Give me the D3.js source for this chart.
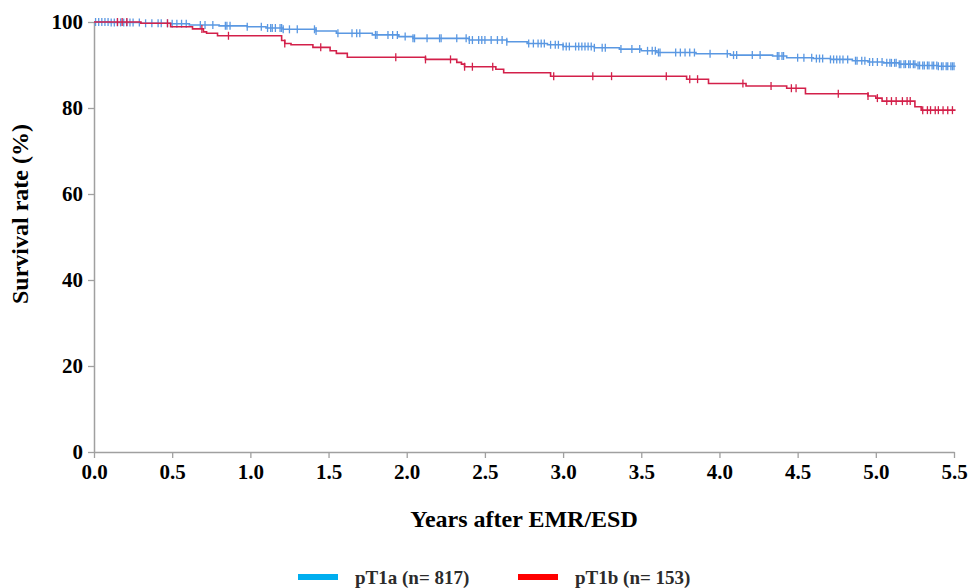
<!DOCTYPE html>
<html>
<head>
<meta charset="utf-8">
<script src="https://cdn.jsdelivr.net/npm/d3@7"></script>
<style>
  body { margin: 0; background: #fff; }
  text { font-family: "Liberation Serif", "Times New Roman", serif; font-weight: bold; }
</style>
</head>
<body>
<div id="chart"></div>
<script>
// step points of the curves (years, survival %)
const pT1aTimes = [0, 0.10, 0.30, 0.49, 0.61, 0.80, 0.98, 1.10, 1.21, 1.42, 1.55, 1.78, 1.95, 2.04, 2.40, 2.64, 2.77, 2.90, 3.00, 3.20, 3.36, 3.50, 3.60, 3.85, 4.07, 4.34, 4.43, 4.60, 4.71, 4.85, 4.95, 5.05, 5.15, 5.26, 5.40, 5.51];
const pT1aSurv  = [100, 99.9, 99.7, 99.6, 99.3, 99.1, 98.9, 98.6, 98.3, 97.9, 97.4, 97.0, 96.6, 96.2, 95.8, 95.4, 95.0, 94.7, 94.3, 94.0, 93.7, 93.3, 92.9, 92.6, 92.3, 92.1, 91.7, 91.5, 91.3, 91.0, 90.7, 90.5, 90.2, 89.9, 89.7, 89.7];

const pT1bTimes = [0, 0.30, 0.49, 0.63, 0.70, 0.72, 0.79, 1.20, 1.22, 1.26, 1.40, 1.51, 1.55, 1.62, 2.12, 2.32, 2.35, 2.37, 2.57, 2.62, 2.92, 3.79, 3.93, 4.17, 4.43, 4.55, 4.95, 5.00, 5.04, 5.25, 5.29, 5.51];
const pT1bSurv  = [100, 99.7, 98.9, 98.4, 97.7, 97.4, 96.8, 95.7, 95.0, 94.7, 94.1, 93.3, 92.7, 91.8, 91.3, 90.6, 90.2, 89.6, 89.0, 88.2, 87.4, 86.7, 85.7, 85.1, 84.6, 83.3, 82.8, 82.3, 81.6, 80.3, 79.5, 79.5];

// censored times
const pT1aCensor = [0.01, 0.03, 0.05, 0.07, 0.09, 0.11, 0.13, 0.15, 0.17, 0.19, 0.21, 0.23, 0.25,
  0.29, 0.33, 0.37, 0.41, 0.43, 0.47, 0.50, 0.53, 0.56, 0.59, 0.68, 0.71, 0.76, 0.84, 0.85, 0.87, 0.98,
  1.07, 1.11, 1.13, 1.14, 1.16, 1.19, 1.20, 1.21, 1.25, 1.30, 1.41, 1.42, 1.56, 1.65, 1.68, 1.70, 1.80, 1.81, 1.88, 1.91, 1.94, 1.99, 2.04,
  2.05, 2.13, 2.21, 2.22, 2.32, 2.38, 2.40, 2.42, 2.46, 2.48, 2.50, 2.54, 2.58, 2.61, 2.64, 2.78, 2.81, 2.84, 2.86, 2.88, 2.92, 2.95, 2.97, 3.00, 3.02, 3.04, 3.08, 3.10,
  3.12, 3.14, 3.16, 3.18, 3.20, 3.25, 3.27, 3.37, 3.44, 3.49, 3.54, 3.57, 3.59, 3.61, 3.62, 3.72, 3.75, 3.78, 3.81, 3.84, 3.94, 4.05, 4.09, 4.11,
  4.21, 4.26, 4.37, 4.38, 4.40, 4.41, 4.50, 4.54, 4.59, 4.62, 4.64, 4.66, 4.71, 4.73, 4.75, 4.77, 4.79, 4.82, 4.87,
  4.88, 4.91, 4.93, 4.96, 4.98, 5.01, 5.04, 5.07, 5.09, 5.10, 5.12, 5.13, 5.15, 5.16, 5.18, 5.19, 5.21, 5.22, 5.24, 5.25, 5.27, 5.28,
  5.30, 5.31, 5.33, 5.34, 5.36, 5.37, 5.39, 5.40, 5.42, 5.43, 5.45, 5.46, 5.48, 5.49, 5.50];
const pT1bCensor = [0.15, 0.18, 0.21, 0.47, 0.69, 0.86, 1.22, 1.45, 1.93, 2.12, 2.28, 2.37, 2.42, 2.55, 2.94, 3.19, 3.31,
  3.66, 3.81, 3.86, 4.15, 4.33, 4.46, 4.49, 4.76, 4.95, 5.01, 5.07, 5.10, 5.13, 5.17, 5.20, 5.22,
  5.30, 5.33, 5.35, 5.38, 5.40, 5.43, 5.46, 5.49];

const xTicks = [0, 0.5, 1, 1.5, 2, 2.5, 3, 3.5, 4, 4.5, 5, 5.5];
const yTicks = [0, 20, 40, 60, 80, 100];
const seriesNames = ["pT1a (n= 817)", "pT1b (n= 153)"];

const width = 969, height = 588;

const svg = d3.select("#chart").append("svg")
  .attr("width", width)
  .attr("height", height);

const x = d3.scaleLinear().domain([0, 5.5]).range([94, 954]);
const y = d3.scaleLinear().domain([0, 100]).range([452, 22]);

// axes
const yAxis = svg.append("g")
  .attr("transform", "translate(94,0)")
  .call(d3.axisLeft(y).tickValues(yTicks).tickSize(6).tickSizeOuter(0).tickPadding(5).tickFormat(d3.format("d")));
const xAxis = svg.append("g")
  .attr("transform", "translate(0,452)")
  .call(d3.axisBottom(x).tickValues(xTicks).tickSize(6).tickSizeOuter(0).tickPadding(6).tickFormat(d3.format(".1f")));

[xAxis, yAxis].forEach(a => {
  a.select(".domain").attr("stroke", "#a0a0a0").attr("stroke-width", 1.5);
  a.selectAll(".tick line").attr("stroke", "#a0a0a0").attr("stroke-width", 1.3);
  a.selectAll(".tick text").attr("fill", "#000")
    .style("font-family", "'Liberation Serif', serif").style("font-weight", "bold").style("font-size", "21px");
});

svg.append("text")
  .attr("x", 524).attr("y", 527)
  .attr("text-anchor", "middle")
  .style("font-size", "24px")
  .text("Years after EMR/ESD");

svg.append("text")
  .attr("transform", "translate(28,214) rotate(-90)")
  .attr("text-anchor", "middle")
  .style("font-size", "24px")
  .text("Survival rate (%)");

// curves
const series = [
  { times: pT1aTimes, surv: pT1aSurv, censor: pT1aCensor, color: "#5a98e2" },
  { times: pT1bTimes, surv: pT1bSurv, censor: pT1bCensor, color: "#d3204a" }
];

const line = d3.line()
  .x(d => x(d[0]))
  .y(d => y(d[1]))
  .curve(d3.curveStepAfter);

function survAt(s, t) {
  let v = s.surv[0];
  for (let i = 0; i < s.times.length; i++) {
    if (s.times[i] <= t) v = s.surv[i];
  }
  return v;
}

series.forEach(s => {
  const pts = s.times.map((t, i) => [t, s.surv[i]]);
  svg.append("path")
    .datum(pts)
    .attr("fill", "none")
    .attr("stroke", s.color)
    .attr("stroke-width", 1.6)
    .attr("d", line);

  svg.append("g")
    .selectAll("line")
    .data(s.censor)
    .join("line")
    .attr("x1", d => x(d))
    .attr("x2", d => x(d))
    .attr("y1", d => y(survAt(s, d)) - 4)
    .attr("y2", d => y(survAt(s, d)) + 4)
    .attr("stroke", s.color)
    .attr("stroke-width", 1.3);
});

// legend
const legendColors = ["#00aeef", "#ff0000"];
const legendX = [298, 518];
const legend = svg.append("g");
seriesNames.forEach((name, i) => {
  legend.append("rect")
    .attr("x", legendX[i]).attr("y", 574)
    .attr("width", 40).attr("height", 6)
    .attr("fill", legendColors[i]);
  legend.append("text")
    .attr("x", legendX[i] + 57).attr("y", 584)
    .attr("fill", "#2b2b2b")
    .style("font-size", "19px")
    .text(name);
});
</script>
</body>
</html>
